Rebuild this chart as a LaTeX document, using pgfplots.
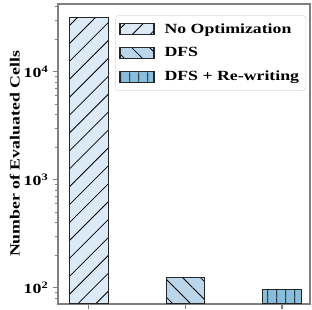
\documentclass[border=0pt]{standalone}
\usepackage{fontspec}
\setmainfont{Liberation Serif}[FakeStretch=1.27]
\usepackage{pgfplots}
\pgfplotsset{compat=1.18}
\usetikzlibrary{patterns.meta}
\definecolor{c1}{HTML}{DCE9F6}
\definecolor{c2}{HTML}{BBD6EB}
\definecolor{c3}{HTML}{88BDDC}
\definecolor{spine}{HTML}{7F7F7F}
\begin{document}
\fontsize{10.5pt}{12pt}\selectfont\bfseries
\begin{tikzpicture}
\begin{axis}[
  scale only axis, width=189pt, height=225pt,
  ymode=log, log origin=infty,
  ymin=71, ymax=42400,
  xmin=-0.32, xmax=2.29,
  xtick={0,1,2}, xticklabels={},
  ytick={100,1000,10000},
  yticklabels={10\textsuperscript{2},10\textsuperscript{3},10\textsuperscript{4}},
  minor ytick={80,90,200,300,400,500,600,700,800,900,2000,3000,4000,5000,6000,7000,8000,9000,20000,30000,40000},
  tick align=outside, major tick length=3.5pt, minor tick length=2pt,
  xtick pos=bottom, ytick pos=left,
  axis line style={spine, line width=1pt},
  every tick/.style={spine, line width=0.8pt},
  every minor tick/.style={spine, line width=0.6pt},
  font=\bfseries,
  ylabel={Number of Evaluated Cells},
  ylabel style={at={(axis description cs:-0.171,0.5)}, anchor=center, font=\bfseries},
  ybar, bar width=0.4, bar shift=0pt,
  legend style={at={(axis description cs:0.227,0.962)}, anchor=north west,
    draw=black!15, rounded corners=2pt, fill=white, inner xsep=3pt, inner ysep=3.8pt,
    row sep=5.2pt, font=\bfseries},
  legend cell align=left,
  legend image code/.code={\draw[#1, sharp corners] (0pt,-4pt) rectangle (25.5pt,4pt); \path (31pt,0pt);},
]
\addplot[fill=c1, draw=black!85, line width=0.8pt,
  postaction={pattern={Lines[angle=45,distance=9.5pt,line width=0.6pt]}, pattern color=black}]
  coordinates {(0,32000)};
\addlegendentry{No Optimization}
\addplot[fill=c2, draw=black!85, line width=0.8pt,
  postaction={pattern={Lines[angle=-45,distance=9.5pt,line width=0.6pt]}, pattern color=black}]
  coordinates {(1,126)};
\addlegendentry{DFS}
\addplot[fill=c3, draw=black!85, line width=0.8pt,
  postaction={pattern={Lines[angle=90,distance=6.5pt,line width=0.6pt]}, pattern color=black}]
  coordinates {(2,96)};
\addlegendentry{DFS + Re-writing}
\end{axis}
\pgfresetboundingbox
\useasboundingbox ([shift={(-43.5pt,-4.5pt)}]current axis.south west) rectangle ([shift={(1.5pt,3pt)}]current axis.north east);
\end{tikzpicture}
\end{document}
